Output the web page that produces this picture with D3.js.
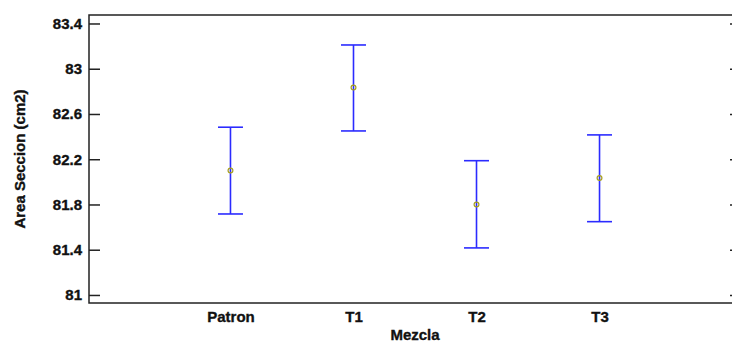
<!DOCTYPE html>
<html><head><meta charset="utf-8">
<script src="https://cdn.jsdelivr.net/npm/d3@7"></script>
<style>
html,body{margin:0;padding:0;background:#fff;}
svg{display:block;font-family:"Liberation Sans",Arial,sans-serif;}
svg text{stroke:#111;stroke-width:0.35px;}
</style></head>
<body>
<svg id="chart" width="732" height="343"></svg>
<script>
const categories = ["Patron", "T1", "T2", "T3"];
const means = [82.10, 82.833, 81.80, 82.034];
const lowers = [81.716, 82.45, 81.416, 81.648];
const uppers = [82.483, 83.21, 82.187, 82.415];
const yTicks = [81, 81.4, 81.8, 82.2, 82.6, 83, 83.4];
const yTickLabels = ["81", "81.4", "81.8", "82.2", "82.6", "83", "83.4"];
const xTitle = "Mezcla";
const yTitle = "Area Seccion (cm2)";

const svg = d3.select("#chart");
const L = 89, R = 741, T = 15, B = 303;

const x = d3.scalePoint().domain(categories).range([L, R]).padding(1.15);
const y = d3.scaleLinear().domain([80.929, 83.475]).range([B, T]);

const frameColor = "#222";
const textColor = "#111";
const fontFam = "Liberation Sans, Arial, sans-serif";

// frame
svg.append("rect").attr("x", L).attr("y", T).attr("width", R - L).attr("height", B - T)
  .attr("fill", "none").attr("stroke", frameColor).attr("stroke-width", 1.5);

// left axis
const leftAxis = d3.axisLeft(y).tickValues(yTicks).tickSizeInner(-11).tickSizeOuter(0)
  .tickPadding(7).tickFormat((d, i) => yTickLabels[i]);
const gl = svg.append("g").attr("transform", `translate(${L},0)`).call(leftAxis);
gl.select(".domain").remove();
gl.selectAll(".tick line").attr("stroke", frameColor).attr("stroke-width", 1.5);
gl.selectAll(".tick text").attr("font-size", 15).attr("font-weight", "bold")
  .attr("fill", textColor).attr("font-family", fontFam);

// right axis (inward ticks, no labels)
const rightAxis = d3.axisRight(y).tickValues(yTicks).tickSizeInner(-11).tickSizeOuter(0).tickFormat("");
const gr = svg.append("g").attr("transform", `translate(${R},0)`).call(rightAxis);
gr.select(".domain").remove();
gr.selectAll(".tick line").attr("stroke", frameColor).attr("stroke-width", 1.5);

// bottom axis labels
const bottomAxis = d3.axisBottom(x).tickSize(0).tickPadding(8);
const gb = svg.append("g").attr("transform", `translate(0,${B})`).call(bottomAxis);
gb.select(".domain").remove();
gb.selectAll(".tick text").attr("font-size", 15).attr("font-weight", "bold")
  .attr("fill", textColor).attr("font-family", fontFam);

// error bars
const blue = "#2b2bff";
const capW = 12.5;
const g = svg.append("g");
categories.forEach((c, i) => {
  const cx = x(c);
  g.append("line").attr("x1", cx).attr("x2", cx).attr("y1", y(lowers[i])).attr("y2", y(uppers[i]))
    .attr("stroke", blue).attr("stroke-width", 1.6);
  g.append("line").attr("x1", cx - capW).attr("x2", cx + capW).attr("y1", y(uppers[i])).attr("y2", y(uppers[i]))
    .attr("stroke", blue).attr("stroke-width", 1.6);
  g.append("line").attr("x1", cx - capW).attr("x2", cx + capW).attr("y1", y(lowers[i])).attr("y2", y(lowers[i]))
    .attr("stroke", blue).attr("stroke-width", 1.6);
  g.append("circle").attr("cx", cx).attr("cy", y(means[i])).attr("r", 2.4)
    .attr("fill", "none").attr("stroke", "#a8a020").attr("stroke-width", 1.2);
});

// titles
svg.append("text").attr("x", (L + R) / 2).attr("y", 340).attr("text-anchor", "middle")
  .attr("font-size", 15).attr("font-weight", "bold").attr("fill", textColor).text(xTitle);
svg.append("text").attr("transform", `translate(25,${(T + B) / 2}) rotate(-90)`)
  .attr("text-anchor", "middle").attr("font-size", 15).attr("font-weight", "bold")
  .attr("fill", textColor).text(yTitle);
</script>
</body></html>
